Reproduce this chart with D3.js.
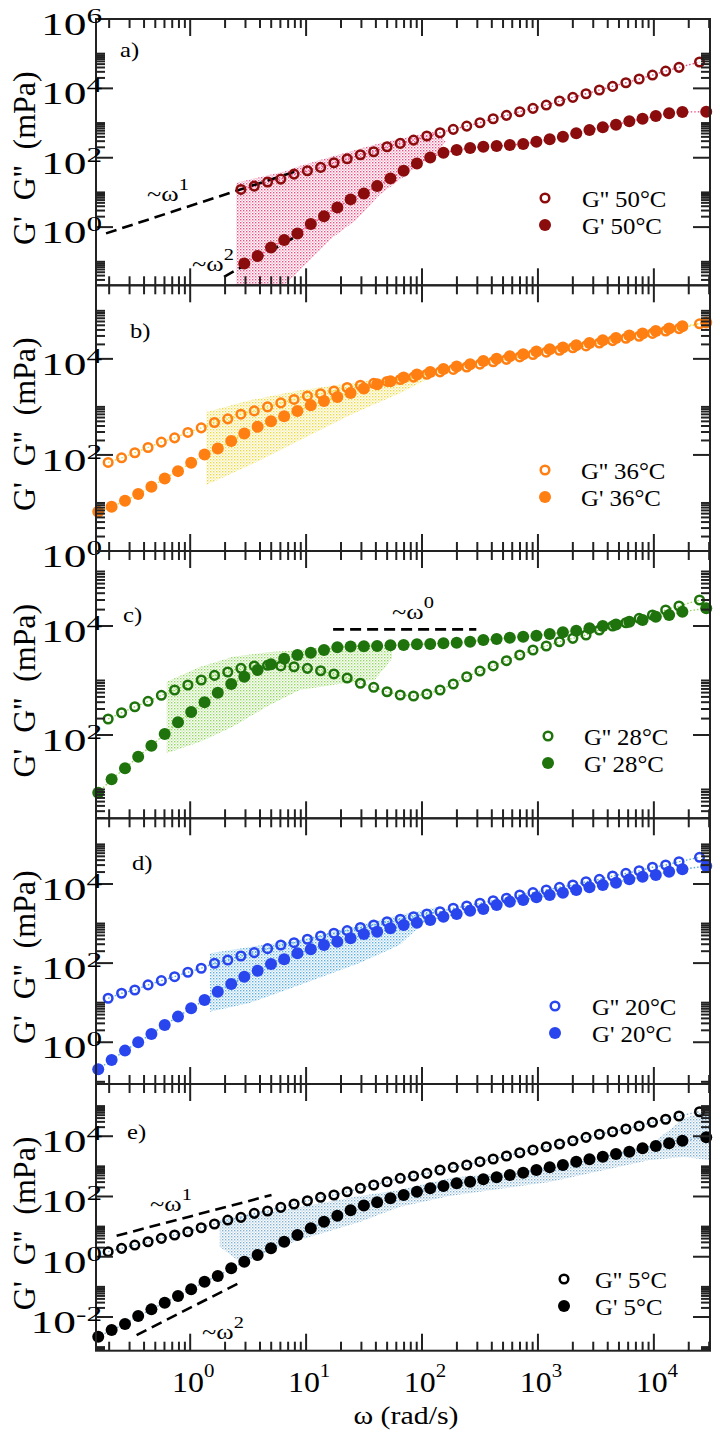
<!DOCTYPE html>
<html><head><meta charset="utf-8">
<script src="https://cdn.jsdelivr.net/npm/d3@7"></script>
<style>body{margin:0;background:#fff} svg{display:block}</style>
</head><body>
<svg id="chart" width="720" height="1432"></svg>
<script>
// ---------------- DATA ----------------
const xDomain = [0.154, 30500];
const xTickExp = [0, 1, 2, 3, 4];
const panelIds = ['a', 'b', 'c', 'd', 'e'];
const temps = ['50°C', '36°C', '28°C', '20°C', '5°C'];
const yDomains = [[0.021, 1e6], [1, 3.4e5], [2.96, 2.38e5], [0.088, 4.57e5], [7.6e-4, 5.42e5]];
const yTickExp = [[0, 2, 4, 6], [0, 2, 4], [2, 4], [0, 2, 4], [-2, 0, 2, 4]];

// frequency grids (rad/s) of G'' and G' measurements
const omegaLoss = [0.196, 0.256, 0.333, 0.433, 0.564, 0.734, 0.955, 1.245, 1.62, 2.11, 2.74, 3.57, 4.65, 6.05, 7.87, 10.26, 13.34, 17.38, 22.6, 29.4, 38.3, 49.9, 64.9, 84.5, 110, 143, 186, 243, 316, 411, 535, 697, 906, 1180, 1535, 2000, 2600, 3388, 4406, 5740, 7465, 9725, 12650, 16480, 24770];
const omegaStorage = [0.161, 0.210, 0.274, 0.356, 0.463, 0.603, 0.785, 1.02, 1.33, 1.73, 2.26, 2.93, 3.82, 4.98, 6.47, 8.42, 10.98, 14.27, 18.6, 24.2, 31.5, 41.0, 53.4, 69.4, 90.4, 117.7, 153, 199, 260, 338, 440, 572, 746, 970, 1263, 1642, 2140, 2782, 3625, 4714, 6140, 7990, 10400, 13540, 17630, 28300];

// G'' (loss modulus, mPa)
const lossA = [null, null, null, null, null, null, null, null, null, null, 12.2, 15.2, 19.9, 24.2, 33.8, 42.1, 52.7, 71.6, 93.3, 122, 149, 207, 259, 323, 422, 525, 658, 818, 1020, 1330, 1670, 2120, 2650, 3300, 4310, 5510, 7000, 8950, 11400, 14500, 18600, 24200, 31500, 40400, 57400];
const lossB = [69.8, 87.1, 111, 143, 185, 227, 294, 366, 474, 564, 705, 826, 1000, 1210, 1430, 1690, 1880, 2150, 2530, 2820, 3090, 3390, 3720, 4170, 4790, 5370, 6030, 6760, 7760, 8710, 9770, 11000, 12300, 13800, 15100, 17000, 18600, 21400, 24000, 26900, 29500, 33900, 38000, 42700, 53700];
const lossC = [197, 256, 330, 415, 535, 670, 826, 1020, 1240, 1430, 1670, 1850, 1900, 1850, 1790, 1670, 1510, 1320, 1110, 889, 750, 622, 542, 520, 565, 670, 863, 1170, 1490, 1850, 2310, 2940, 3630, 4300, 5150, 5940, 6840, 8450, 10000, 11500, 13800, 15900, 19700, 23300, 30000];
const lossD = [12.9, 17.3, 20.9, 28.1, 36.0, 45.4, 58.7, 74.1, 99.1, 120, 151, 184, 232, 287, 328, 400, 485, 568, 661, 794, 920, 1110, 1280, 1490, 1750, 1990, 2430, 2780, 3250, 3780, 4350, 5270, 6030, 7050, 8240, 9420, 11400, 13100, 15900, 18600, 21600, 26400, 30100, 36600, 47200];
const lossE = [1.47, 1.90, 2.44, 3.15, 4.08, 5.25, 6.76, 9.18, 12.2, 16.5, 20.3, 27.6, 32.9, 43.6, 56.2, 72.3, 93.8, 112, 144, 187, 240, 309, 401, 478, 587, 755, 929, 1110, 1430, 1750, 2200, 2840, 3490, 4490, 5520, 7100, 9200, 11600, 14100, 17400, 21800, 29000, 36500, 46900, 65200];

// G' (storage modulus, mPa)
const storageA = [null, null, null, null, null, null, null, null, null, null, null, 0.0897, 0.146, 0.259, 0.422, 0.658, 1.22, 2.07, 3.70, 6.30, 9.38, 15.2, 25.4, 42.1, 68.7, 102, 139, 166, 190, 207, 217, 232, 248, 288, 339, 403, 505, 628, 752, 893, 1120, 1330, 1590, 1910, 2080, 2120];
const storageB = [6.56, 8.34, 11.1, 15.3, 21.7, 32.4, 46.0, 68.5, 102, 136, 196, 280, 384, 505, 641, 826, 1080, 1330, 1610, 1950, 2420, 2960, 3420, 4080, 4720, 5350, 6170, 6920, 7730, 9060, 10100, 11300, 12500, 14200, 15800, 17200, 19200, 21400, 24400, 27200, 30500, 33600, 38000, 42700, 47600, 56900];
const storageC = [8.73, 15.4, 24.5, 40.0, 63.7, 104, 171, 264, 398, 597, 863, 1170, 1560, 1980, 2510, 2940, 3240, 3630, 4060, 4220, 4250, 4300, 4430, 4480, 4610, 4680, 4820, 4940, 5150, 5530, 5770, 6100, 6370, 6640, 7130, 7660, 8200, 9080, 10000, 10700, 12000, 12900, 14800, 15900, 18300, 21100];
const storageD = [0.208, 0.357, 0.614, 1.00, 1.62, 2.74, 4.44, 7.23, 11.7, 19.0, 29.7, 45.4, 64.4, 95.1, 125, 177, 224, 287, 348, 425, 545, 622, 759, 920, 1050, 1230, 1490, 1750, 2110, 2330, 2940, 3560, 3940, 4600, 5270, 6030, 7050, 8240, 9420, 10800, 13100, 15300, 16900, 20400, 23500, 28400];
const storageE = [0.00221, 0.00368, 0.00583, 0.0107, 0.0179, 0.0297, 0.0495, 0.0828, 0.148, 0.229, 0.412, 0.682, 1.14, 1.90, 3.15, 5.25, 8.77, 14.5, 22.9, 34.7, 50.1, 64.6, 86.9, 112, 144, 187, 222, 274, 309, 372, 433, 515, 615, 755, 929, 1110, 1430, 1710, 2090, 2570, 3060, 3970, 4730, 5820, 7100, 9200];

// shaded uncertainty bands: [omega, lower, upper] (mPa)
const bandA = [[2.5, 0.021, 19], [4.6, 0.021, 31], [6.5, 0.021, 40], [8.8, 0.057, 58], [17, 0.5, 110], [27, 1.6, 170], [43, 8.4, 260], [100, 70, 480], [130, 110, 560], [160, 300, 300]];
const bandB = [[1.38, 23.6, 787], [3.27, 61, 1378], [8.83, 203, 2225], [23.8, 672, 3110], [64.3, 1927, 4350], [141, 5000, 5800]];
const bandC = [[0.626, 46, 950], [1.21, 74.5, 1770], [2.33, 142, 2735], [4.87, 355, 3334], [8.83, 670, 3630], [19.5, 863, 4480], [39.2, 1020, 4875], [55, 2500, 3500]];
const bandD = [[1.48, 5.9, 177], [3.27, 9.8, 256], [8.83, 28, 385], [29, 101, 920], [64, 287, 1645], [141, 2400, 2700]];
const bandE = [[1.8, 2.15, 16.5], [2.69, 0.67, 22.4], [8.83, 3.6, 44.7], [29, 14.2, 104], [64, 45, 164], [173, 104, 410], [1260, 302, 890], [9300, 1620, 5130], [18300, 2040, 39800], [30000, 1620, 74000]];

// power-law guide lines: endpoints [omega, value]
const guideA1 = [[0.188, 0.66], [8.8, 44]];
const guideA2 = [[1.96, 0.0368], [9.12, 0.658]];
const guideC0 = [[17.1, 8690], [294, 8690]];
const guideE1 = [[0.232, 4.98], [5.03, 112]];
const guideE2 = [[0.345, 0.00251], [2.77, 0.148]];

// ---------------- DRAWING ----------------
const FONT = '"Liberation Serif","Times New Roman",Times,serif';
const svg = d3.select('#chart');
const L = 96, R = 710;
const x = d3.scaleLog().domain(xDomain).range([L, R]);

const panels = [
  {top: 19, bottom: 285.3, loss: lossA, storage: storageA, band: bandA, color: '#8a0c0c', bandColor: '#ec4f86', label: [120, 57], legend: [545, 198, 582]},
  {top: 285.3, bottom: 551, loss: lossB, storage: storageB, band: bandB, color: '#ff7f12', bandColor: '#ecd93a', label: [130, 338], legend: [545, 470, 581]},
  {top: 551, bottom: 818.3, loss: lossC, storage: storageC, band: bandC, color: '#1f730c', bandColor: '#8fd85a', label: [123, 622], legend: [548, 736, 584]},
  {top: 818.3, bottom: 1084, loss: lossD, storage: storageD, band: bandD, color: '#2946ee', bandColor: '#5aaee0', label: [132, 870], legend: [555, 1006, 592]},
  {top: 1084, bottom: 1350.7, loss: lossE, storage: storageE, band: bandE, color: '#000000', bandColor: '#7fb0d4', label: [127, 1139], legend: [564, 1279, 595]}
];

const defs = svg.append('defs');
panels.forEach((p, i) => {
  const pat = defs.append('pattern').attr('id', 'dots' + i).attr('width', 3).attr('height', 3)
    .attr('patternUnits', 'userSpaceOnUse');
  pat.append('rect').attr('x', 0).attr('y', 0).attr('width', 1.4).attr('height', 1.4).attr('fill', p.bandColor);
  pat.append('rect').attr('x', 1.5).attr('y', 1.5).attr('width', 1.2).attr('height', 1.2).attr('fill', p.bandColor).attr('opacity', 0.7);
  defs.append('clipPath').attr('id', 'clip' + i).append('rect')
    .attr('x', L).attr('y', p.top).attr('width', R - L).attr('height', p.bottom - p.top);
});

function supLabel(g, tx, ty, exp, size, supSize, raise, sx, anchor) {
  const t = g.append('text').attr('transform', `translate(${tx},${ty}) scale(${sx},1)`)
    .attr('font-family', FONT).attr('font-size', size).attr('text-anchor', anchor).attr('fill', '#000');
  t.append('tspan').text('10');
  t.append('tspan').attr('font-size', supSize).attr('dy', -raise).text(String(exp));
  return t;
}

panels.forEach((p, i) => {
  const y = d3.scaleLog().domain(yDomains[i]).range([p.bottom, p.top]);
  const g = svg.append('g');
  const clip = g.append('g').attr('clip-path', `url(#clip${i})`);

  // band
  const area = d3.area().x(d => x(d[0])).y0(d => y(d[1])).y1(d => y(d[2]));
  clip.append('path').datum(p.band).attr('d', area).attr('fill', `url(#dots${i})`);

  // guides
  const guides = i === 0 ? [guideA1, guideA2] : i === 2 ? [guideC0] : i === 4 ? [guideE1, guideE2] : [];
  const line2 = d3.line().x(d => x(d[0])).y(d => y(d[1]));
  guides.forEach(gd => {
    g.append('path').datum(gd).attr('d', line2).attr('stroke', '#000').attr('stroke-width', 2.6)
      .attr('stroke-dasharray', '11,6').attr('fill', 'none');
  });

  // dotted connecting lines
  const lossPts = omegaLoss.map((w, k) => [w, p.loss[k]]).filter(d => d[1] != null);
  const stoPts = omegaStorage.map((w, k) => [w, p.storage[k]]).filter(d => d[1] != null);
  [lossPts, stoPts].forEach(pts => {
    clip.append('path').datum(pts).attr('d', line2).attr('fill', 'none')
      .attr('stroke', p.bandColor).attr('stroke-width', 1.4).attr('stroke-dasharray', '1.5,2');
  });

  // markers: G'' open, then G' filled on top
  g.append('g').selectAll('circle').data(lossPts).join('circle')
    .attr('cx', d => x(d[0])).attr('cy', d => y(d[1])).attr('r', 4.3)
    .attr('fill', 'none').attr('stroke', p.color).attr('stroke-width', 2.5);
  g.append('g').selectAll('circle').data(stoPts).join('circle')
    .attr('cx', d => x(d[0])).attr('cy', d => y(d[1])).attr('r', 6)
    .attr('fill', p.color);

  // frame
  const ax = svg.append('g').attr('stroke', '#222').attr('stroke-width', 2);
  ax.append('rect').attr('x', L).attr('y', p.top).attr('width', R - L).attr('height', p.bottom - p.top)
    .attr('fill', 'none');

  // x ticks (top and bottom, inward)
  const xt = [];
  for (let k = -1; k <= 4; k++) {
    for (let m = 1; m <= 9; m++) {
      const v = m * Math.pow(10, k);
      if (v >= xDomain[0] && v <= xDomain[1] * 1.001) xt.push({v, major: m === 1});
    }
  }
  xt.forEach(t => {
    const xx = x(t.v), len = t.major ? 17 : 9;
    ax.append('line').attr('x1', xx).attr('x2', xx).attr('y1', p.bottom).attr('y2', p.bottom - len);
    ax.append('line').attr('x1', xx).attr('x2', xx).attr('y1', p.top).attr('y2', p.top + len);
  });
  // y ticks (left and right, inward)
  const [y0, y1] = yDomains[i];
  const yt = [];
  for (let k = -4; k <= 6; k += 2) {
    for (let m = 1; m <= 10; m++) {
      const v = m * Math.pow(10, k);
      if (v >= y0 * 0.999 && v <= y1 * 1.001) yt.push({v, major: m === 1});
    }
  }
  yt.forEach(t => {
    const yy = y(t.v), len = t.major ? 17 : 9;
    ax.append('line').attr('x1', L).attr('x2', L + len).attr('y1', yy).attr('y2', yy);
    ax.append('line').attr('x1', R).attr('x2', R - len).attr('y1', yy).attr('y2', yy);
  });

  // y tick labels
  const lab = svg.append('g');
  yTickExp[i].forEach(e => {
    supLabel(lab, 102, y(Math.pow(10, e)) + 16, e, 32, 22, 12, 1.42, 'end');
  });

  // y title
  const ym = (p.top + p.bottom) / 2 + 6;
  svg.append('text').attr('transform', `translate(35,${ym}) rotate(-90)`)
    .attr('font-family', FONT).attr('font-size', 32).attr('text-anchor', 'middle')
    .style('white-space', 'pre')
    .text("G'  G''  (mPa)");

  // panel letter
  svg.append('text').attr('transform', `translate(${p.label[0]},${p.label[1]}) scale(1.12,1)`)
    .attr('font-family', FONT).attr('font-size', 22).text(panelIds[i] + ')');

  // legend
  const [lx, ly, tx] = p.legend;
  const leg = svg.append('g');
  leg.append('circle').attr('cx', lx).attr('cy', ly).attr('r', 4.3).attr('fill', 'none')
    .attr('stroke', p.color).attr('stroke-width', 2.5);
  leg.append('circle').attr('cx', lx).attr('cy', ly + 27).attr('r', 6).attr('fill', p.color);
  leg.append('text').attr('transform', `translate(${tx},${ly + 8.5}) scale(1.08,1)`)
    .attr('font-family', FONT).attr('font-size', 23).text("G'' " + temps[i]);
  leg.append('text').attr('transform', `translate(${tx},${ly + 35.5}) scale(1.08,1)`)
    .attr('font-family', FONT).attr('font-size', 23).text("G' " + temps[i]);
});

// guide labels
function omegaLabel(tx, ty, exp) {
  const t = svg.append('text').attr('transform', `translate(${tx},${ty}) scale(1.2,1)`)
    .attr('font-family', FONT).attr('font-size', 22);
  t.append('tspan').text('~ω');
  t.append('tspan').attr('font-size', 17).attr('dy', -11).text(exp);
}
omegaLabel(147, 201, '1');
omegaLabel(192, 271, '2');
omegaLabel(392, 619, '0');
omegaLabel(150, 1211, '1');
omegaLabel(202, 1339, '2');

// x tick labels (bottom panel only)
xTickExp.forEach(e => {
  supLabel(svg, x(Math.pow(10, e)) + 3, 1392, e, 29, 19, 15, 1.1, 'middle');
});
// x title
svg.append('text').attr('transform', 'translate(406,1424) scale(1.15,1)')
  .attr('font-family', FONT).attr('font-size', 26).attr('text-anchor', 'middle')
  .text('ω (rad/s)');
</script>
</body></html>
